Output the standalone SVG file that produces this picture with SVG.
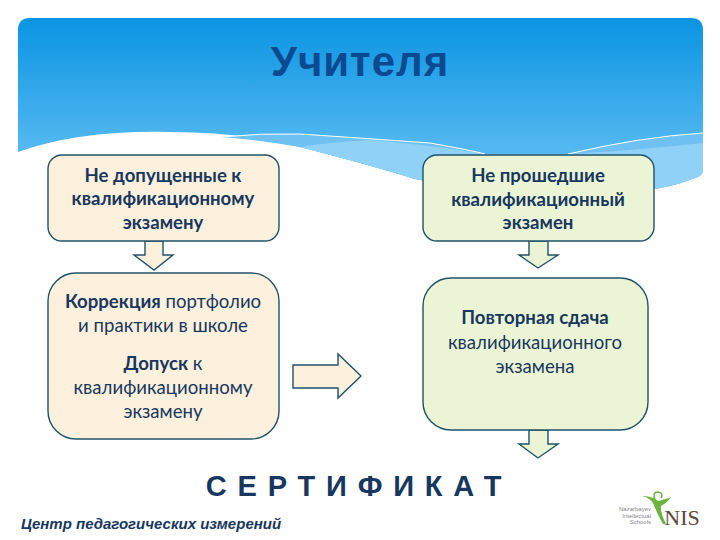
<svg xmlns="http://www.w3.org/2000/svg" width="720" height="540" viewBox="0 0 720 540">
<style>
.b{stroke:#1f5268;stroke-width:1.4}
.o{fill:#fdf0dc}
.g{fill:#ebf5d6}
text{font-family:"Lato","Open Sans",sans-serif;font-size:18.6px;fill:#17375e;text-anchor:middle}
.h{font-weight:700}
</style>
<defs>
<linearGradient id="sky" x1="0" y1="0" x2="0" y2="1"><stop offset="0" stop-color="#0a94e2"/><stop offset="1" stop-color="#6cc4f5"/></linearGradient>
</defs>
<rect width="720" height="540" fill="#fff"/>
<g id="header">
<path d="M18 30Q18 18 30 18H691Q703 18 703 30V168Q703 176 695 178Q670 188 640 191Q590 195 530 190Q470 190 415 179Q370 165 300 147Q240 132 170 132Q80 130 18 152Z" fill="url(#sky)"/>
<path d="M221 137Q260 133 300 134Q360 138 430 143Q470 150 485 154L568 154Q640 137 703 133V170Q703 176 695 178Q670 188 640 191Q590 195 530 190Q470 190 415 179Q370 165 300 147Q260 140 221 137Z" fill="#6fc1f3"/>
<path d="M300 147Q330 142 370 140Q440 146 485 154L568 154Q640 150 703 143V170Q703 176 695 178Q670 188 640 191Q590 195 530 190Q470 190 415 179Q370 165 300 147Z" fill="#90d1f8"/>
<path d="M221 137Q260 133 300 134Q360 138 430 143Q470 150 485 154M568 154Q640 137 703 133" fill="none" stroke="#fff" stroke-width="1"/>
<text x="360" y="76" style="font-family:'Liberation Sans',Arial,sans-serif;font-weight:700;font-size:42px;fill:#0b4a92;letter-spacing:1px">Учителя</text>
</g>
<g id="connectors" class="b">
<path class="o" d="M145 241H163V255H173L154 270L134 255H145Z"/>
<path class="o" d="M293 365H338V354L361 376L338 398V388H293Z"/>
<path class="g" d="M529 241H548V255H558L538 268L519 255H529Z"/>
<path class="g" d="M529 430H548V444H558L538 458L519 444H529Z"/>
</g>
<g id="node-not-admitted">
<rect class="b o" x="48" y="155" width="231" height="86" rx="14"/>
<text class="h" x="163" y="182">Не допущенные к</text>
<text class="h" x="163" y="205">квалификационному</text>
<text class="h" x="163" y="229">экзамену</text>
</g>
<g id="node-correction">
<rect class="b o" x="48" y="273" width="231" height="166" rx="28"/>
<text x="163" y="308"><tspan class="h">Коррекция</tspan> портфолио</text>
<text x="163" y="332">и практики в школе</text>
<text x="163" y="370"><tspan class="h">Допуск</tspan> к</text>
<text x="163" y="394">квалификационному</text>
<text x="163" y="418">экзамену</text>
</g>
<g id="node-not-passed">
<rect class="b g" x="423" y="155" width="231" height="86" rx="14"/>
<text class="h" x="538" y="182">Не прошедшие</text>
<text class="h" x="538" y="206">квалификационный</text>
<text class="h" x="538" y="229">экзамен</text>
</g>
<g id="node-retake">
<rect class="b g" x="423" y="278" width="225" height="152" rx="28"/>
<text class="h" x="535" y="324">Повторная сдача</text>
<text x="535" y="349">квалификационного</text>
<text x="535" y="373">экзамена</text>
</g>
<g id="certificate">
<text x="359" y="496" style="font-family:'Liberation Sans',Arial,sans-serif;font-weight:700;font-size:29px;letter-spacing:10.8px;fill:#17375e">СЕРТИФИКАТ</text>
</g>
<text x="21" y="529" style="font-family:'Liberation Sans',Arial,sans-serif;font-weight:700;font-style:italic;font-size:15px;fill:#17375e;text-anchor:start">Центр педагогических измерений</text>
<g id="logo">
<path d="M642 496Q651 498 654 505Q657 514 663 524L666 524Q660 512 661 506Q667 503 671 497Q663 500 658 501Q652 496 642 496Z" fill="#6cb33f"/>
<path d="M655 500Q652 492 658 492Q664 493 661 498" fill="none" stroke="#6cb33f" stroke-width="1.5"/>
<text x="682" y="525" style="font-family:'Liberation Serif',serif;font-size:22px;fill:#5b4a3c">NIS</text>
<g>
<text x="651" y="511" style="font-family:'Liberation Sans',sans-serif;font-size:6px;fill:#888;text-anchor:end">Nazarbayev</text>
<text x="651" y="518" style="font-family:'Liberation Sans',sans-serif;font-size:6px;fill:#888;text-anchor:end">Intellectual</text>
<text x="651" y="524" style="font-family:'Liberation Sans',sans-serif;font-size:6px;fill:#888;text-anchor:end">Schools</text>
</g>
</g>
</svg>
